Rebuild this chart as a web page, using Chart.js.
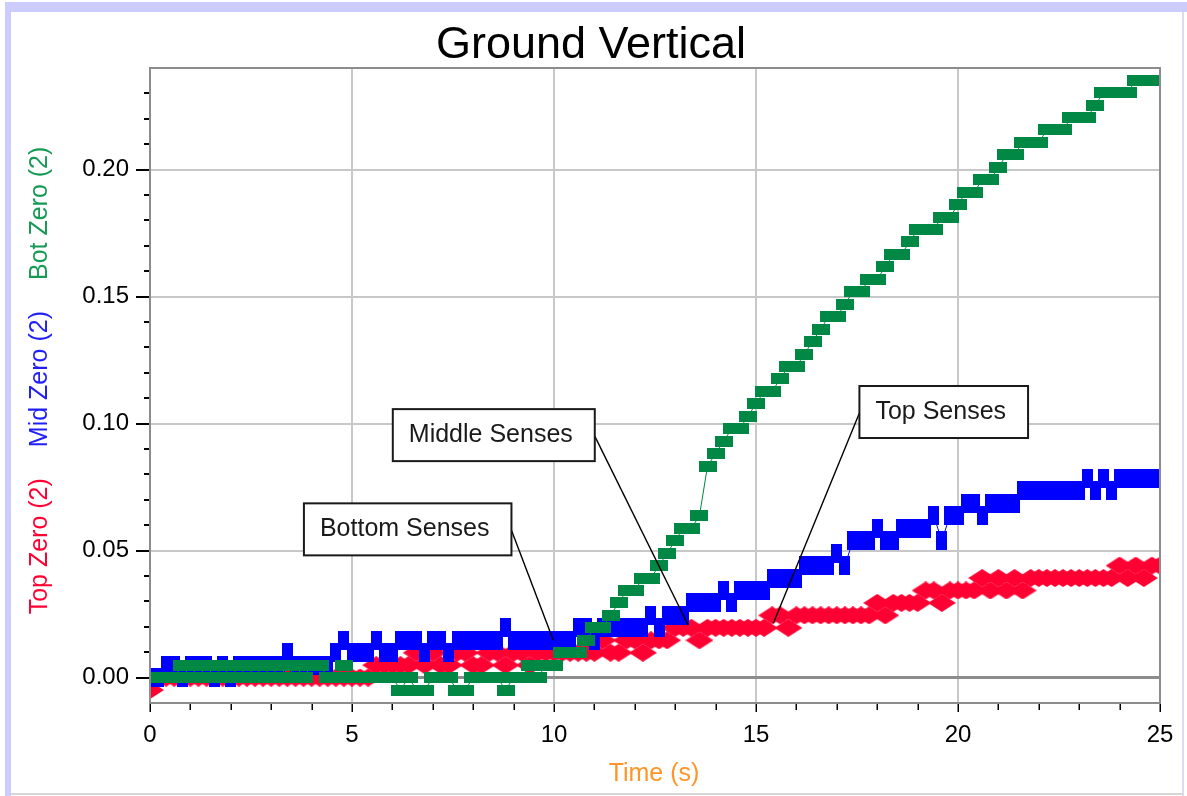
<!DOCTYPE html>
<html>
<head>
<meta charset="utf-8">
<title>Ground Vertical</title>
<script src="https://cdn.jsdelivr.net/npm/chart.js@4.4.1/dist/chart.umd.min.js"></script>
<style>
  html, body { margin: 0; padding: 0; background: #fff; }
  canvas { display: block; }
</style>
</head>
<body>
<canvas id="graph" width="1187" height="796"></canvas>
<script>
// Logger sample period (s)
const sampleInterval = 0.2;

// Bot Zero (2), m
const botZero = [
  0, 0, 0, 0, 0.0049, 0, 0.0049, 0, 0.0049, 0,
  0.0049, 0, 0.0049, 0, 0.0049, 0, 0.0049, 0, 0.0049, 0,
  0.0049, 0.0049, 0, 0, 0.0049, 0, 0, 0, 0, 0,
  0, -0.0049, 0, -0.0049, -0.0049, 0, 0, 0, -0.0049, -0.0049,
  0, 0, 0, 0, -0.0049, 0, 0, 0.0049, 0, 0.0049,
  0.0049, 0.0098, 0.0098, 0.0098, 0.0147, 0.0196, 0.0196, 0.0245, 0.0294, 0.0343,
  0.0343, 0.0392, 0.0392, 0.0441, 0.049, 0.0539, 0.0588, 0.0588, 0.0637, 0.0833,
  0.0882, 0.0931, 0.098, 0.098, 0.1029, 0.1078, 0.1127, 0.1127, 0.1176, 0.1225,
  0.1225, 0.1274, 0.1323, 0.1372, 0.1421, 0.1421, 0.147, 0.1519, 0.1519, 0.1568,
  0.1568, 0.1617, 0.1666, 0.1666, 0.1715, 0.1764, 0.1764, 0.1764, 0.1813, 0.1813,
  0.1862, 0.1911, 0.1911, 0.196, 0.196, 0.2009, 0.2058, 0.2058, 0.2107, 0.2107,
  0.2107, 0.2156, 0.2156, 0.2156, 0.2205, 0.2205, 0.2205, 0.2254, 0.2303, 0.2303,
  0.2303, 0.2303, 0.2352, 0.2352, 0.2352, 0.2352
];

// Mid Zero (2), m
const midZero = [
  0, 0, 0.0049, 0.0049, 0, 0.0049, 0.0049, 0.0049, 0, 0.0049,
  0, 0.0049, 0.0049, 0.0049, 0.0049, 0.0049, 0.0049, 0.0098, 0.0049, 0.0049,
  0.0049, 0.0049, 0.0049, 0.0098, 0.0147, 0.0098, 0.0098, 0.0098, 0.0147, 0.0098,
  0.0098, 0.0147, 0.0147, 0.0147, 0.0098, 0.0147, 0.0147, 0.0098, 0.0147, 0.0147,
  0.0147, 0.0147, 0.0147, 0.0147, 0.0196, 0.0147, 0.0147, 0.0147, 0.0147, 0.0147,
  0.0147, 0.0147, 0.0147, 0.0196, 0.0196, 0.0147, 0.0196, 0.0196, 0.0196, 0.0196,
  0.0196, 0.0196, 0.0245, 0.0196, 0.0245, 0.0245, 0.0245, 0.0294, 0.0294, 0.0294,
  0.0294, 0.0343, 0.0294, 0.0343, 0.0343, 0.0343, 0.0343, 0.0392, 0.0392, 0.0392,
  0.0392, 0.0441, 0.0441, 0.0441, 0.0441, 0.049, 0.0441, 0.0539, 0.0539, 0.0539,
  0.0588, 0.0539, 0.0539, 0.0588, 0.0588, 0.0588, 0.0588, 0.0637, 0.0539, 0.0637,
  0.0637, 0.0686, 0.0686, 0.0637, 0.0686, 0.0686, 0.0686, 0.0686, 0.0735, 0.0735,
  0.0735, 0.0735, 0.0735, 0.0735, 0.0735, 0.0735, 0.0784, 0.0735, 0.0784, 0.0735,
  0.0784, 0.0784, 0.0784, 0.0784, 0.0784, 0.0784
];

// Top Zero (2), m
const topZero = [
  -0.0049, 0, 0, 0, 0, 0, 0, 0, 0, 0,
  0, 0, 0, 0, 0, 0, 0, 0, 0, 0,
  0, 0, 0, 0, 0, 0, 0, 0, 0.0049, 0.0049,
  0.0049, 0.0049, 0.0049, 0.0098, 0.0049, 0.0098, 0.0049, 0.0049, 0.0098, 0.0098,
  0.0049, 0.0049, 0.0098, 0.0098, 0.0049, 0.0098, 0.0098, 0.0049, 0.0098, 0.0098,
  0.0098, 0.0098, 0.0098, 0.0098, 0.0098, 0.0098, 0.0147, 0.0098, 0.0098, 0.0147,
  0.0147, 0.0098, 0.0147, 0.0147, 0.0147, 0.0196, 0.0196, 0.0196, 0.0147, 0.0196,
  0.0196, 0.0196, 0.0196, 0.0196, 0.0196, 0.0196, 0.0196, 0.0245, 0.0245, 0.0196,
  0.0245, 0.0245, 0.0245, 0.0245, 0.0245, 0.0245, 0.0245, 0.0245, 0.0245, 0.0245,
  0.0294, 0.0245, 0.0294, 0.0294, 0.0294, 0.0294, 0.0343, 0.0343, 0.0294, 0.0343,
  0.0343, 0.0343, 0.0343, 0.0392, 0.0343, 0.0392, 0.0343, 0.0392, 0.0343, 0.0392,
  0.0392, 0.0392, 0.0392, 0.0392, 0.0392, 0.0392, 0.0392, 0.0392, 0.0392, 0.0392,
  0.0441, 0.0392, 0.0441, 0.0392, 0.0441, 0.0441
];

// Axis tick labels
const timeTickLabels = ['0', '5', '10', '15', '20', '25'];
const heightTickLabels = ['0.00', '0.05', '0.10', '0.15', '0.20'];

// Callout boxes: top-left corner and pointer target in data units
const callouts = [
  { text: 'Bottom Senses', left: 3.81, top: 0.0686, side: 'right', target: [9.98, 0.0148] },
  { text: 'Middle Senses', left: 6.01, top: 0.1057, side: 'right', target: [13.32, 0.0207] },
  { text: 'Top Senses', left: 17.56, top: 0.1148, side: 'left', target: [15.43, 0.0214] }
];

const GREEN = '#008844';
const BLUE = '#0000ff';
const RED = '#ff0033';
const SANS = "'Liberation Sans', Arial, sans-serif";

const sampleTimes = botZero.map((_, i) => Math.round(i * sampleInterval * 10) / 10);
const toPoints = values => values.map((v, i) => ({ x: sampleTimes[i], y: v }));

// Marker bitmaps used as point styles
function marker(w, h, paint) {
  const c = document.createElement('canvas');
  c.width = w; c.height = h;
  paint(c.getContext('2d'), w, h);
  return c;
}
const greenMark = marker(18, 11, (g, w, h) => { g.fillStyle = GREEN; g.fillRect(0, 0, w, h); });
const blueMark = marker(11, 19, (g, w, h) => { g.fillStyle = BLUE; g.fillRect(0, 0, w, h); });
const redMark = marker(28, 18, (g, w, h) => {
  g.fillStyle = RED;
  g.beginPath();
  g.moveTo(w / 2, 0); g.lineTo(w, h / 2); g.lineTo(w / 2, h); g.lineTo(0, h / 2);
  g.closePath(); g.fill();
});

const hundredths = v => Math.round(v * 100);
const isMajorX = v => Math.round(v) % 5 === 0;
const isMajorY = v => hundredths(v) % 5 === 0;

const decor = {
  id: 'decor',
  beforeDraw(chart) {
    const { ctx, width, height } = chart;
    ctx.save();
    ctx.fillStyle = '#fff';
    ctx.fillRect(0, 0, width, height);
    // window frame
    ctx.fillStyle = '#ccccff';
    ctx.fillRect(5, 2, width - 5, 10);
    ctx.fillRect(5, 2, 6, height - 2);
    ctx.fillStyle = '#dcdcec';
    ctx.fillRect(width - 5, 12, 2, height - 12);
    ctx.fillStyle = '#d6d6d6';
    ctx.fillRect(11, height - 3, width - 16, 2);
    // title
    ctx.fillStyle = '#000';
    ctx.font = '45px ' + SANS;
    ctx.textAlign = 'center';
    ctx.textBaseline = 'alphabetic';
    ctx.fillText('Ground Vertical', 591, 58);
    ctx.restore();
  },
  afterDatasetsDraw(chart) {
    const { ctx, chartArea: a, scales: { x, y } } = chart;
    ctx.save();

    // plot frame
    ctx.strokeStyle = '#8c8c8c';
    ctx.lineWidth = 2;
    ctx.strokeRect(a.left, a.top, a.right - a.left, a.bottom - a.top);

    // y tick marks
    ctx.strokeStyle = '#000';
    ctx.lineWidth = 2;
    ctx.beginPath();
    y.ticks.forEach(t => {
      const py = Math.round(y.getPixelForValue(t.value));
      if (py <= a.top + 1 || py >= a.bottom - 1) return;
      ctx.moveTo(a.left - (isMajorY(t.value) ? 14 : 6), py);
      ctx.lineTo(a.left - 1, py);
    });
    ctx.stroke();

    // x tick marks
    ctx.lineWidth = 1.5;
    ctx.beginPath();
    x.ticks.forEach(t => {
      const px = Math.round(x.getPixelForValue(t.value)) + 0.25;
      ctx.moveTo(px, a.bottom + 1);
      ctx.lineTo(px, a.bottom + (isMajorX(t.value) ? 9 : 7));
    });
    ctx.stroke();

    // x axis title
    ctx.fillStyle = '#ff9526';
    ctx.font = '25px ' + SANS;
    ctx.textAlign = 'center';
    ctx.textBaseline = 'alphabetic';
    ctx.fillText('Time (s)', (a.left + a.right) / 2 - 1, 781);

    // y axis title, one colour per column
    const parts = [['Top Zero (2)', RED], ['Mid Zero (2)', '#1f1ff5'], ['Bot Zero (2)', '#169a55']];
    const gap = 31;
    const widths = parts.map(p => ctx.measureText(p[0]).width);
    const total = widths.reduce((s, w) => s + w, 0) + gap * (parts.length - 1);
    ctx.save();
    ctx.translate(40, (a.top + a.bottom) / 2 - 5);
    ctx.rotate(-Math.PI / 2);
    ctx.textAlign = 'left';
    ctx.textBaseline = 'middle';
    let pos = -total / 2;
    parts.forEach((p, i) => {
      ctx.fillStyle = p[1];
      ctx.fillText(p[0], pos, 0);
      pos += widths[i] + gap;
    });
    ctx.restore();

    // callouts
    ctx.font = '25px ' + SANS;
    callouts.forEach(c => {
      const bx = x.getPixelForValue(c.left);
      const by = y.getPixelForValue(c.top);
      const bw = ctx.measureText(c.text).width + 38;
      const bh = 52;
      const tx = x.getPixelForValue(c.target[0]);
      const ty = y.getPixelForValue(c.target[1]);
      const sx = c.side === 'right' ? bx + bw : bx;
      const sy = by + bh / 2 + 1;
      ctx.strokeStyle = '#000';
      ctx.lineWidth = 1.4;
      ctx.beginPath();
      ctx.moveTo(sx, sy);
      ctx.lineTo(tx, ty);
      ctx.stroke();
      ctx.fillStyle = '#fff';
      ctx.fillRect(bx, by, bw, bh);
      ctx.strokeStyle = '#1a1a1a';
      ctx.lineWidth = 2;
      ctx.strokeRect(bx, by, bw, bh);
      ctx.fillStyle = '#1a1a1a';
      ctx.textAlign = 'left';
      ctx.textBaseline = 'alphabetic';
      ctx.fillText(c.text, bx + 16, by + 33);
    });

    ctx.restore();
  }
};

const seriesStyle = (color, mark) => ({
  borderColor: color,
  backgroundColor: color,
  borderWidth: 1,
  pointStyle: mark,
  pointRadius: 9,
  pointHoverRadius: 9,
  tension: 0,
  fill: false
});

new Chart(document.getElementById('graph'), {
  type: 'line',
  data: {
    datasets: [
      Object.assign({ label: 'Bot Zero (2)', data: toPoints(botZero) }, seriesStyle(GREEN, greenMark)),
      Object.assign({ label: 'Mid Zero (2)', data: toPoints(midZero) }, seriesStyle(BLUE, blueMark)),
      Object.assign({ label: 'Top Zero (2)', data: toPoints(topZero) }, seriesStyle(RED, redMark))
    ]
  },
  options: {
    responsive: false,
    animation: false,
    events: [],
    layout: { padding: { left: 0, right: 27, top: 68, bottom: 0 } },
    plugins: {
      legend: { display: false },
      tooltip: { enabled: false },
      title: { display: false }
    },
    scales: {
      x: {
        type: 'linear',
        min: 0,
        max: 25,
        afterFit: s => { s.height = 93; },
        border: { display: false },
        grid: {
          drawTicks: true,
          tickLength: 18,
          tickColor: 'rgba(0,0,0,0)',
          lineWidth: 2,
          color: c => {
            const v = c.tick ? c.tick.value : -1;
            return (isMajorX(v) && v > 0 && v < 25) ? '#c8c8c8' : 'rgba(0,0,0,0)';
          }
        },
        ticks: {
          stepSize: 1,
          autoSkip: false,
          maxRotation: 0,
          padding: 0,
          color: '#000',
          font: { family: SANS, size: 24 },
          callback: v => (isMajorX(v) ? timeTickLabels[Math.round(v) / 5] : '')
        }
      },
      y: {
        type: 'linear',
        min: -0.01,
        max: 0.24,
        afterFit: s => { s.width = 150; },
        border: { display: false },
        grid: {
          drawTicks: true,
          tickLength: 21,
          tickColor: 'rgba(0,0,0,0)',
          lineWidth: c => (c.tick && hundredths(c.tick.value) === 0 ? 3 : 2),
          color: c => {
            if (!c.tick) return 'rgba(0,0,0,0)';
            const n = hundredths(c.tick.value);
            if (n === 0) return '#8c8c8c';
            return (n % 5 === 0 && n > 0 && n < 24) ? '#c8c8c8' : 'rgba(0,0,0,0)';
          }
        },
        ticks: {
          stepSize: 0.01,
          autoSkip: false,
          padding: 0,
          color: '#000',
          font: { family: SANS, size: 24 },
          callback: v => {
            const n = hundredths(v);
            return (n >= 0 && n % 5 === 0 && n / 5 < heightTickLabels.length) ? heightTickLabels[n / 5] : '';
          }
        }
      }
    }
  },
  plugins: [decor]
});
</script>
</body>
</html>
